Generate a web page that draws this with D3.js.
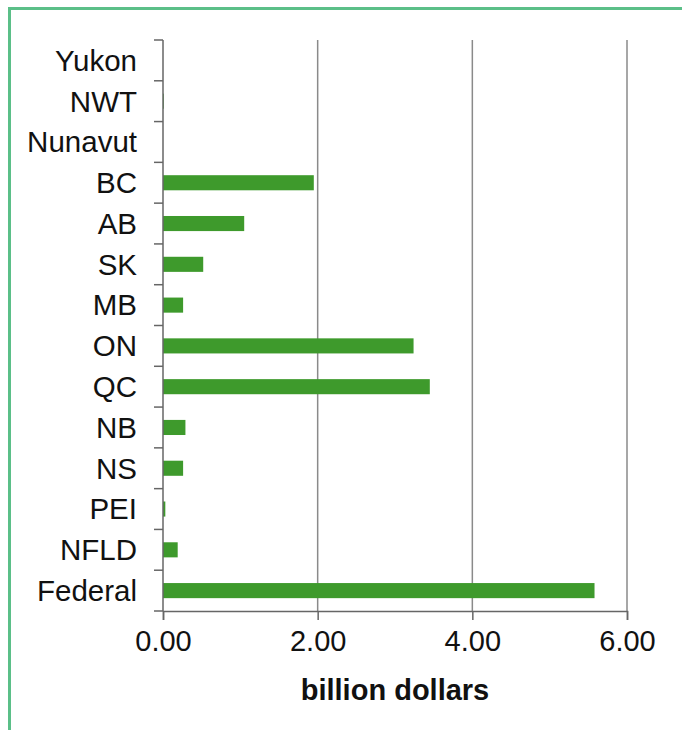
<!DOCTYPE html>
<html>
<head>
<meta charset="utf-8">
<script src="https://cdn.jsdelivr.net/npm/d3@7"></script>
<style>
  html, body { margin: 0; padding: 0; background: #fff; }
  svg { display: block; }
</style>
</head>
<body>
<script>
const categories = ["Yukon", "NWT", "Nunavut", "BC", "AB", "SK", "MB", "ON", "QC", "NB", "NS", "PEI", "NFLD", "Federal"];
const values = [0, 0.01, 0, 1.95, 1.05, 0.52, 0.26, 3.24, 3.45, 0.29, 0.26, 0.03, 0.19, 5.58];
const xTicks = [0, 2, 4, 6];
const xTitle = "billion dollars";

const W = 682, H = 730;
const margin = { left: 163, right: 55, top: 40, bottom: 119 };

const svg = d3.select("body").append("svg").attr("width", W).attr("height", H);

// frame
svg.append("rect").attr("x", 8).attr("y", 7).attr("width", W - 8).attr("height", 3).attr("fill", "#5bbf88");
svg.append("rect").attr("x", 8).attr("y", 7).attr("width", 3).attr("height", H - 7).attr("fill", "#5bbf88");

const x = d3.scaleLinear().domain([0, 6]).range([margin.left, W - margin.right]);
const y = d3.scaleBand().domain(categories).range([margin.top, H - margin.bottom]).paddingInner(0.63).paddingOuter(0.315);
const yb = d3.scaleBand().domain(categories).range([margin.top, H - margin.bottom]);

const font = "'Liberation Sans', Arial, Helvetica, sans-serif";

// gridlines
svg.append("g").selectAll("line").data(xTicks.filter(d => d > 0)).join("line")
  .attr("x1", d => x(d)).attr("x2", d => x(d))
  .attr("y1", margin.top).attr("y2", H - margin.bottom)
  .attr("stroke", "#8a8a8a").attr("stroke-width", 1.5);

// bars
svg.append("g").selectAll("rect").data(categories).join("rect")
  .attr("x", x(0))
  .attr("y", d => y(d))
  .attr("width", (d, i) => Math.max(0, x(values[i]) - x(0)))
  .attr("height", y.bandwidth())
  .attr("fill", "#3e9a2c");

// x axis
const xAxis = svg.append("g").attr("transform", `translate(0,${H - margin.bottom})`)
  .call(d3.axisBottom(x).tickValues(xTicks).tickFormat(d3.format(".2f")).tickSize(9).tickPadding(10));
xAxis.select(".domain").attr("stroke", "#666").attr("stroke-width", 1.5);
xAxis.selectAll(".tick line").attr("stroke", "#666").attr("stroke-width", 1.5);
xAxis.selectAll("text").attr("font-family", font).attr("font-size", 29).attr("fill", "#111");

// y axis: ticks at band boundaries
const yAxisG = svg.append("g");
yAxisG.append("line").attr("x1", x(0)).attr("x2", x(0))
  .attr("y1", margin.top).attr("y2", H - margin.bottom).attr("stroke", "#666").attr("stroke-width", 1.5);
const bounds = categories.map(c => yb(c)).concat([H - margin.bottom]);
yAxisG.selectAll("line.t").data(bounds).join("line").attr("class", "t")
  .attr("x1", x(0) - 9).attr("x2", x(0)).attr("y1", d => d).attr("y2", d => d)
  .attr("stroke", "#666").attr("stroke-width", 1.5);
yAxisG.selectAll("text").data(categories).join("text")
  .attr("x", x(0) - 26)
  .attr("y", d => yb(d) + yb.bandwidth() / 2)
  .attr("dy", "0.35em")
  .attr("text-anchor", "end")
  .attr("font-family", font).attr("font-size", 29.5).attr("fill", "#111")
  .text(d => d);

// x title
svg.append("text").attr("x", (x(0) + x(6)) / 2).attr("y", 700)
  .attr("text-anchor", "middle").attr("font-family", font).attr("font-weight", "bold")
  .attr("font-size", 29).attr("fill", "#111").text(xTitle);
</script>
</body>
</html>
